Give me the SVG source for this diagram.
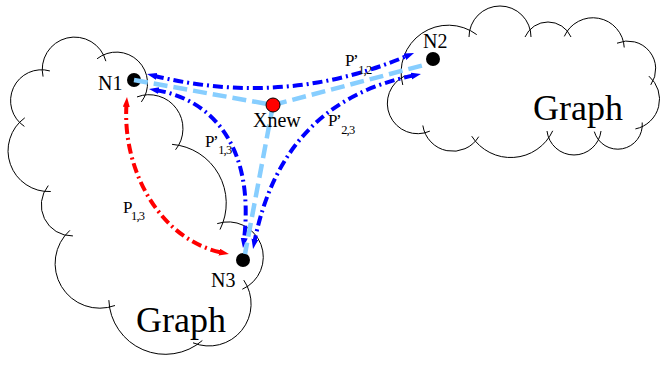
<svg xmlns="http://www.w3.org/2000/svg" width="660" height="371" viewBox="0 0 660 371">
<style>
.cloud path{fill:none;stroke:#000;stroke-width:1}
.lbl{font-family:"Liberation Serif","Times New Roman",serif;font-size:20px;fill:#000}
.big{font-family:"Liberation Serif","Times New Roman",serif;font-size:36px;fill:#000}
.p{font-family:"Liberation Serif","Times New Roman",serif;font-size:17px;fill:#000}
.sub{font-size:12.5px;letter-spacing:-0.8px}
.blue{fill:none;stroke:#0000ff;stroke-width:4;stroke-dasharray:10 4 2 4}
.red{fill:none;stroke:#ff0000;stroke-width:4;stroke-dasharray:10 4 2 4}
.lt{fill:none;stroke:#87ceff;stroke-width:4.5;stroke-dasharray:14 6}
.dot{fill:#000}
</style>
<defs>
<marker id="ab" markerUnits="userSpaceOnUse" markerWidth="12" markerHeight="8" refX="3" refY="3.5" orient="auto-start-reverse"><path d="M0,0 L10,3.5 L0,7 Z" fill="#0000ff"/></marker>
<marker id="ar" markerUnits="userSpaceOnUse" markerWidth="12" markerHeight="8" refX="3" refY="3.5" orient="auto-start-reverse"><path d="M0,0 L10,3.5 L0,7 Z" fill="#ff0000"/></marker>
</defs>
<g id="graph-left" class="cloud">
<path d="M43.05,76.6 A32.35,32.35 0 0 1 105.87,61.16"/>
<path d="M97.06,58.77 A31.2,31.2 0 0 1 141.36,101.95"/>
<path d="M137,96.94 A33.9,33.9 0 0 1 175.54,149.78"/>
<path d="M172.05,144.35 A58.98,58.98 0 0 1 219.99,229.57"/>
<path d="M217.2,223.63 A35.17,35.17 0 0 1 242.34,289.23"/>
<path d="M243.78,280.15 A42.1,42.1 0 0 1 193,342.81"/>
<path d="M202.33,340.52 A56.56,56.56 0 0 1 108.83,300.14"/>
<path d="M114.98,305.51 A44.64,44.64 0 0 1 69.88,230.37"/>
<path d="M72.91,235.93 A30.86,30.86 0 0 1 48.27,185.55"/>
<path d="M50.77,191.5 A40.79,40.79 0 0 1 24.77,117.84"/>
<path d="M24.39,126.4 A30.89,30.89 0 0 1 49.89,70.94"/>
<text class="big" x="136" y="332">Graph</text>
</g>
<g id="graph-right" class="cloud">
<path d="M402.77,84.99 A47.3,47.3 0 0 1 476.73,34.61"/>
<path d="M469,37 A31,31 0 0 1 531,37"/>
<path d="M525,37 A25.13,25.13 0 0 1 571,37"/>
<path d="M564.32,36.39 A31.32,31.32 0 0 1 624.22,47.49"/>
<path d="M617,43.19 A27.96,27.96 0 0 1 650.78,84.85"/>
<path d="M648.86,76.1 A30.34,30.34 0 0 1 635.38,128.92"/>
<path d="M642.2,122.51 A24.5,24.5 0 0 1 594.3,131.63"/>
<path d="M601,131 A27.19,27.19 0 0 1 547,131"/>
<path d="M552.72,130.81 A46.34,46.34 0 0 1 471.74,136.21"/>
<path d="M478.72,136.67 A30.31,30.31 0 0 1 422.84,125.49"/>
<path d="M429.87,131.14 A30.3,30.3 0 0 1 405.45,75.64"/>
<text class="big" x="533" y="120">Graph</text>
</g>
<g id="N1"><circle class="dot" cx="134" cy="80" r="7"/><text class="lbl" x="98" y="90">N1</text></g>
<g id="N2"><circle class="dot" cx="433" cy="59" r="7"/><text class="lbl" x="423" y="48">N2</text></g>
<g id="N3"><circle class="dot" cx="243" cy="260" r="7"/><text class="lbl" x="211" y="287">N3</text></g>
<g id="connectors">
<path class="red" d="M126.5,104 C122,170 160,240 222.1,252.6" marker-start="url(#ar)" marker-end="url(#ar)"/>
<path class="blue" d="M153.8,75.7 Q285,108 407.6,55.7" marker-start="url(#ab)" marker-end="url(#ab)"/>
<path class="blue" d="M414.1,75.4 Q282,102 254.4,242.1" marker-start="url(#ab)" marker-end="url(#ab)"/>
<path class="blue" d="M155.9,90.1 C215,100 255,150 243.85,241.05" marker-start="url(#ab)" marker-end="url(#ab)"/>
<path class="lt" d="M134,80 L273,105"/>
<path class="lt" d="M273,105 L424,65"/>
<path class="lt" d="M273,105 L245,254"/>
<text id="label-p12" class="p" x="345" y="65.5">P<tspan dx="-1.5">’</tspan><tspan class="sub" dx="-0.5" dy="8.5">1,2</tspan></text>
<text id="label-p23" class="p" x="328" y="126">P<tspan dx="-1.5">’</tspan><tspan class="sub" dx="-0.5" dy="8">2,3</tspan></text>
<text id="label-p13b" class="p" x="205" y="146.5">P<tspan dx="-1.5">’</tspan><tspan class="sub" dx="-0.5" dy="7">1,3</tspan></text>
<text id="label-p13r" class="p" x="123" y="213">P<tspan class="sub" dx="-1.5" dy="7">1,3</tspan></text>
</g>
<g id="Xnew"><circle cx="273" cy="105" r="7" fill="#ff0000" stroke="#000" stroke-width="1"/><text class="lbl" x="253" y="127">Xnew</text></g>
</svg>
